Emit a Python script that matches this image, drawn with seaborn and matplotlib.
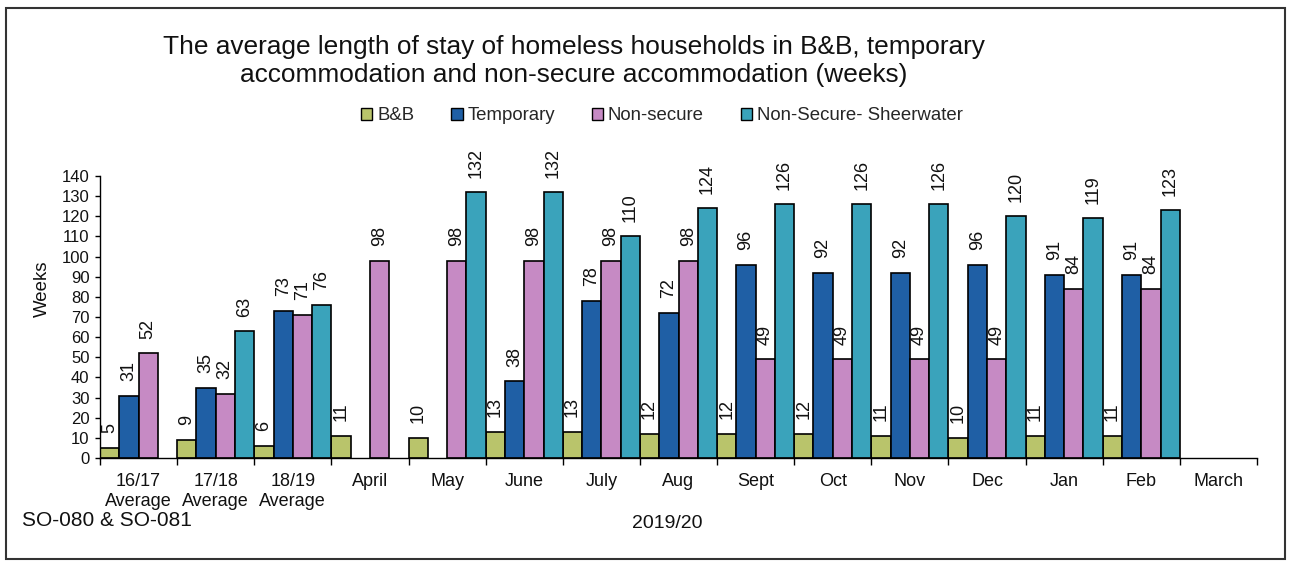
import numpy as np
import pandas as pd
import matplotlib
matplotlib.use("Agg")
import matplotlib.pyplot as plt
from matplotlib.patches import Patch, Rectangle
import seaborn as sns

categories = ["16/17\nAverage", "17/18\nAverage", "18/19\nAverage", "April", "May",
              "June", "July", "Aug", "Sept", "Oct", "Nov", "Dec", "Jan", "Feb", "March"]
series_names = ["B&B", "Temporary", "Non-secure", "Non-Secure- Sheerwater"]
bnb = [5, 9, 6, 11, 10, 13, 13, 12, 12, 12, 11, 10, 11, 11, None]
temporary = [31, 35, 73, None, None, 38, 78, 72, 96, 92, 92, 96, 91, 91, None]
non_secure = [52, 32, 71, 98, 98, 98, 98, 98, 49, 49, 49, 49, 84, 84, None]
sheerwater = [None, 63, 76, None, 132, 132, 110, 124, 126, 126, 126, 120, 119, 123, None]
colors = ["#b9c46b", "#1f5fa5", "#c68ac4", "#3aa3bb"]

rows = []
for name, vals in zip(series_names, [bnb, temporary, non_secure, sheerwater]):
    for cat, v in zip(categories, vals):
        if v is not None:
            rows.append({"Period": cat, "Series": name, "Weeks": v})
df = pd.DataFrame(rows)

sns.set_theme(style="white")
plt.rcParams["font.family"] = ["Liberation Sans", "DejaVu Sans"]

W, H = 1290, 563
fig = plt.figure(figsize=(W / 100, H / 100), dpi=100)
ax = fig.add_axes([100 / W, 1 - 458 / H, 1157 / W, 282 / H])

sns.barplot(data=df, x="Period", y="Weeks", hue="Series", order=categories,
            hue_order=series_names, palette=dict(zip(series_names, colors)),
            width=1.0, gap=0, saturation=1, edgecolor="black", linewidth=1.2,
            ax=ax, legend=False)

for cont in ax.containers:
    ax.bar_label(cont, fmt="%.0f", rotation=90, padding=10.5, fontsize=13, color="#111111")

ax.set_xlim(-0.5, len(categories) - 0.5)
ax.set_ylim(0, 140)
ax.set_yticks(range(0, 141, 10))
ax.set_xticks(range(len(categories)))
ax.set_xticklabels(categories)
ax.set_xticks(np.arange(-0.5, len(categories), 1), minor=True)
ax.tick_params(axis="x", which="major", length=0, pad=11, labelsize=13, labelcolor="#111111")
ax.tick_params(axis="x", which="minor", length=5, width=1, direction="out", color="black", bottom=True)
ax.tick_params(axis="y", length=3.5, width=1, direction="out", pad=4, labelsize=12,
               labelcolor="#111111", color="black", left=True)
ax.set_xlabel("")
ax.set_ylabel("")
for s in ["top", "right"]:
    ax.spines[s].set_visible(False)
for s in ["left", "bottom"]:
    ax.spines[s].set_color("black")
    ax.spines[s].set_linewidth(1)

handles = [Patch(facecolor=c, edgecolor="black", linewidth=1) for c in colors]
fig.legend(handles, series_names, loc="center", bbox_to_anchor=(662 / W, 1 - 116 / H),
           ncol=4, frameon=False, handlelength=0.6, handleheight=0.6, handletextpad=0.25,
           columnspacing=2.0, fontsize=13.4)

fig.text(574 / W, 1 - 61 / H,
         "The average length of stay of homeless households in B&B, temporary\n"
         "accommodation and non-secure accommodation (weeks)",
         ha="center", va="center", fontsize=18.9, linespacing=1.2, color="#111111")
fig.text(42 / W, 1 - 289 / H, "Weeks", rotation=90, ha="center", va="center",
         fontsize=13.4, color="#111111")
fig.text(667 / W, 1 - 524 / H, "2019/20", ha="center", va="center", fontsize=14, color="#111111")
fig.text(22 / W, 1 - 520 / H, "SO-080 & SO-081", ha="left", va="center", fontsize=15, color="#111111")

fig.add_artist(Rectangle((6 / W, 1 - 559 / H), 1279 / W, 551 / H, transform=fig.transFigure,
                         fill=False, edgecolor="#333333", linewidth=1.5))

fig.savefig("out.png", dpi=100)
